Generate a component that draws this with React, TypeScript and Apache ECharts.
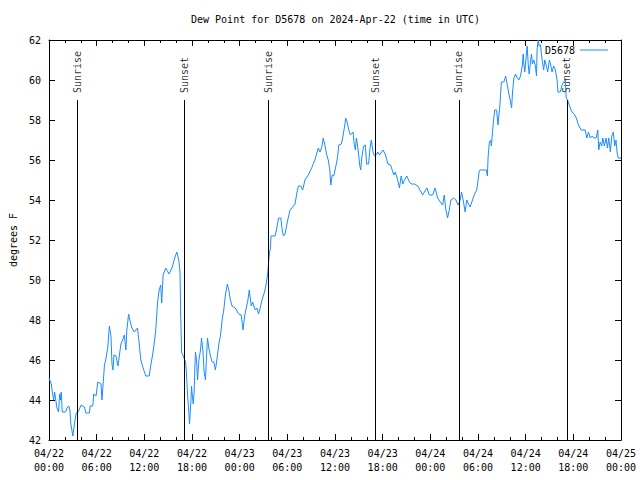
import React, { useEffect, useRef } from "react";
import * as echarts from "echarts";

// hours since 2024-04-22 00:00 UTC
const hours = [
  0, 0.29, 0.41, 0.59, 0.71, 1.0, 1.21, 1.34, 1.44, 1.54, 1.67, 2.09, 2.25, 2.5, 2.63, 2.75, 3.0, 3.22, 3.42, 3.67,
  4.04, 4.47, 4.63, 5.1, 5.17, 5.51, 5.63, 5.92, 6.14, 6.55, 6.67, 6.85, 6.97, 7.18, 7.39, 7.6, 7.8, 7.93, 8.05, 8.18,
  8.43, 8.68, 8.85, 9.05, 9.27, 9.48, 9.68, 9.8, 10.02, 10.18, 10.43, 10.73, 11.14, 11.36, 11.56, 11.77, 12.18, 12.61, 12.81, 13.02,
  13.24, 13.44, 13.65, 13.86, 14.06, 14.19, 14.36, 14.69, 15.11, 15.53, 15.82, 16.09, 16.34, 16.49, 16.57, 16.69, 16.9, 17.19, 17.28, 17.44,
  17.62, 17.69, 17.87, 17.94, 18.03, 18.16, 18.28, 18.37, 18.44, 18.57, 18.7, 18.87, 19.07, 19.2, 19.37, 19.53, 19.7, 19.82, 19.95, 20.12,
  20.32, 20.54, 20.75, 20.95, 21.16, 21.38, 21.58, 21.79, 22.0, 22.2, 22.45, 22.63, 22.83, 23.04, 23.45, 23.88, 24.2, 24.42, 24.63, 24.83,
  25.04, 25.21, 25.46, 25.63, 25.96, 26.17, 26.38, 26.58, 26.88, 27.13, 27.34, 27.55, 27.64, 27.76, 27.84, 27.96, 28.46, 28.68, 28.89, 29.18,
  29.39, 29.51, 29.71, 30.05, 30.34, 30.77, 30.97, 31.18, 31.39, 31.68, 31.93, 32.22, 32.64, 33.06, 33.47, 33.9, 34.1, 34.31, 34.52, 34.72,
  34.94, 35.15, 35.35, 35.47, 35.65, 35.85, 36.06, 36.31, 36.48, 36.81, 37.03, 37.23, 37.35, 37.53, 37.73, 37.94, 38.07, 38.28, 38.41, 38.57,
  38.69, 38.91, 39.11, 39.23, 39.41, 39.61, 39.82, 39.98, 40.23, 40.41, 40.57, 40.78, 40.98, 41.07, 41.41, 41.61, 42.04, 42.32, 42.66, 42.99,
  43.2, 43.41, 43.58, 43.83, 44.11, 44.33, 44.54, 44.74, 45.04, 45.37, 45.58, 45.99, 46.42, 46.83, 47.04, 47.33, 47.58, 47.87, 48.3, 48.59,
  48.92, 49.25, 49.55, 49.75, 49.96, 50.17, 50.38, 50.59, 50.93, 51.22, 51.5, 51.75, 51.93, 52.18, 52.38, 52.59, 52.8, 53.01, 53.31, 53.51,
  53.84, 54.01, 54.13, 54.26, 54.76, 55.06, 55.18, 55.28, 55.43, 55.6, 55.68, 55.89, 56.1, 56.35, 56.51, 56.76, 56.94, 57.26, 57.48, 57.69,
  57.89, 58.1, 58.23, 58.35, 58.52, 58.73, 58.94, 59.14, 59.35, 59.57, 59.69, 59.77, 59.89, 60.07, 60.19, 60.32, 60.44, 60.61, 60.73, 60.86,
  61.02, 61.23, 61.36, 61.44, 61.57, 61.69, 61.86, 61.98, 62.15, 62.27, 62.4, 62.61, 62.77, 62.99, 63.15, 63.32, 63.52, 63.74, 63.95, 64.07,
  64.36, 64.58, 64.78, 64.99, 65.11, 65.28, 65.53, 65.83, 66.12, 66.37, 66.65, 66.99, 67.49, 67.7, 67.91, 68.12, 68.37, 68.62, 68.87, 69.08,
  69.2, 69.37, 69.58, 69.71, 69.91, 70.12, 70.29, 70.46, 70.66, 70.84, 71.04, 71.21, 71.37, 71.5, 71.66, 72.0,
];

// dew point, degrees F
const dewPoint = [
  45.1, 44.8, 44.4, 44.0, 44.4, 43.6, 43.4, 44.3, 44.0, 44.4, 43.4, 43.4, 43.6, 43.7, 43.5, 42.8, 42.2, 42.85, 43.35, 43.4,
  43.75, 43.65, 43.35, 43.35, 43.7, 43.7, 44.3, 44.2, 44.9, 44.8, 44.0, 45.0, 45.7, 46.1, 46.6, 47.7, 47.2, 45.8, 45.5, 46.25,
  46.2, 45.7, 46.2, 46.8, 47.0, 47.25, 46.5, 47.5, 48.3, 48.0, 47.6, 47.4, 47.6, 46.8, 46.0, 45.7, 45.2, 45.2, 45.75, 46.2,
  46.8, 47.5, 48.8, 49.5, 49.75, 48.85, 50.25, 50.6, 50.3, 50.65, 51.1, 51.4, 51.0, 50.4, 48.4, 46.4, 46.2, 45.9, 45.5, 44.25,
  43.3, 42.8, 44.0, 44.7, 44.25, 43.8, 44.5, 45.75, 46.4, 46.0, 45.0, 46.0, 46.5, 47.1, 46.5, 45.4, 45.0, 46.1, 47.1, 46.6,
  46.2, 45.9, 45.9, 45.5, 46.1, 46.8, 47.2, 48.0, 48.5, 49.25, 49.8, 49.5, 49.0, 48.7, 48.6, 48.3, 48.25, 47.5, 48.2, 48.6,
  49.0, 49.5, 48.7, 48.9, 48.5, 48.6, 48.3, 48.6, 49.1, 49.4, 49.8, 50.4, 50.9, 51.4, 51.5, 52.2, 52.2, 52.6, 53.1, 53.1,
  52.4, 52.2, 52.3, 53.0, 53.5, 53.7, 53.8, 54.3, 54.7, 54.7, 54.5, 55.0, 55.25, 55.6, 56.0, 56.6, 56.4, 56.6, 57.1, 56.75,
  56.3, 56.0, 55.5, 54.75, 55.25, 55.2, 55.6, 56.1, 56.75, 56.8, 57.25, 57.75, 58.1, 57.9, 57.5, 57.25, 57.3, 57.4, 56.8, 56.5,
  57.1, 56.5, 55.75, 55.5, 56.25, 56.7, 56.75, 55.8, 55.8, 56.6, 57.0, 56.4, 56.2, 56.2, 56.4, 56.25, 56.5, 56.3, 55.8, 55.75,
  55.5, 55.25, 55.4, 55.1, 54.6, 55.2, 54.8, 55.0, 55.2, 54.9, 54.8, 54.8, 54.7, 54.4, 54.25, 54.45, 54.6, 54.25, 54.25, 54.6,
  54.1, 53.9, 53.75, 54.25, 53.5, 53.1, 53.5, 54.0, 54.1, 54.0, 53.75, 54.0, 54.4, 53.9, 53.4, 54.0, 53.8, 53.65, 54.0, 54.25,
  54.5, 55.0, 55.4, 55.5, 55.5, 55.5, 55.2, 56.2, 56.9, 57.0, 56.7, 57.7, 58.5, 58.5, 57.75, 58.75, 59.9, 59.9, 60.2, 59.75,
  59.3, 58.9, 58.6, 59.4, 60.1, 60.3, 60.1, 60.0, 60.2, 60.7, 61.3, 60.8, 60.4, 61.2, 61.7, 60.8, 60.3, 60.9, 61.3, 60.8,
  61.0, 60.7, 60.2, 61.5, 62.0, 61.7, 61.75, 61.3, 60.8, 60.5, 61.0, 60.7, 60.4, 61.0, 60.75, 60.4, 60.7, 60.5, 60.0, 59.4,
  59.4, 59.75, 59.9, 60.0, 59.1, 59.0, 58.7, 58.4, 58.3, 58.1, 57.75, 57.5, 57.5, 57.1, 57.4, 57.1, 57.2, 57.1, 57.1, 57.5,
  56.5, 56.9, 56.7, 57.1, 56.7, 57.1, 56.6, 57.1, 56.4, 57.2, 57.4, 56.7, 57.0, 56.4, 56.1, 56.1,
];

const eventHours = [3.6, 17.05, 27.6, 41.1, 51.6, 65.2];
const eventNames = ["Sunrise", "Sunset", "Sunrise", "Sunset", "Sunrise", "Sunset"];
const eventTop = 59;

const yMin = 42;
const yMax = 62;
const yStep = 2;
const xMin = 0;
const xMax = 72;
const xStep = 6;
const startDay = 22;

const FONT = "DejaVu Sans Mono";

function xLabel(v: number): string {
  const day = startDay + Math.floor(v / 24);
  const hh = Math.round(v % 24);
  return `04/${day}\n${String(hh).padStart(2, "0")}:00`;
}

export default function App() {
  const ref = useRef<HTMLDivElement>(null);
  useEffect(() => {
    const chart = echarts.init(ref.current!, null, { renderer: "svg" });
    const axisLine = { show: true, onZero: false, lineStyle: { color: "#000", width: 1 } };
    const tick = { show: true, inside: true, length: 6, lineStyle: { color: "#000", width: 1 } };
    const minor = { show: true, splitNumber: 3, length: 3, lineStyle: { color: "#000", width: 1 } };
    const label = { fontFamily: FONT, fontSize: 10, color: "#000" };
    chart.setOption({
      animation: false,
      backgroundColor: "#fff",
      title: {
        text: "Dew Point for D5678 on 2024-Apr-22 (time in UTC)",
        left: 186,
        top: 9,
        textStyle: { fontFamily: FONT, fontSize: 10, fontWeight: "normal", color: "#000" },
      },
      legend: {
        data: ["D5678"],
        right: 27,
        top: 40,
        align: "right",
        icon: "rect",
        itemWidth: 28,
        itemHeight: 1,
        textStyle: { fontFamily: FONT, fontSize: 10, color: "#000" },
      },
      grid: { left: 46, right: 19, top: 40, bottom: 40, containLabel: false },
      xAxis: [
        {
          type: "value",
          min: xMin,
          max: xMax,
          interval: xStep,
          position: "bottom",
          axisLine,
          axisTick: tick,
          minorTick: minor,
          splitLine: { show: false },
          axisLabel: { ...label, formatter: xLabel, margin: 6, lineHeight: 14 },
        },
        {
          type: "value",
          min: xMin,
          max: xMax,
          interval: xStep,
          position: "top",
          axisLine,
          axisTick: tick,
          minorTick: minor,
          splitLine: { show: false },
          axisLabel: { show: false },
        },
      ],
      yAxis: [
        {
          type: "value",
          min: yMin,
          max: yMax,
          interval: yStep,
          position: "left",
          axisLine,
          axisTick: tick,
          splitLine: { show: false },
          axisLabel: { ...label, margin: 8 },
          name: "degrees F",
          nameLocation: "middle",
          nameRotate: 90,
          nameGap: 31,
          nameTextStyle: { fontFamily: FONT, fontSize: 10, color: "#000" },
        },
        {
          type: "value",
          min: yMin,
          max: yMax,
          interval: yStep,
          position: "right",
          axisLine,
          axisTick: tick,
          splitLine: { show: false },
          axisLabel: { show: false },
        },
      ],
      series: [
        {
          name: "events",
          type: "scatter",
          symbolSize: 0,
          silent: true,
          data: eventHours.map((h, i) => ({ value: [h, eventTop], name: eventNames[i] })),
          label: {
            show: true,
            formatter: "{b}",
            position: "top",
            distance: 7,
            rotate: 90,
            align: "left",
            verticalAlign: "middle",
            fontFamily: FONT,
            fontSize: 10,
            color: "#000",
          },
          markLine: {
            silent: true,
            symbol: ["none", "none"],
            label: { show: false },
            lineStyle: { color: "#000", width: 1, type: "solid" },
            data: eventHours.map((h) => [{ coord: [h, eventTop] }, { coord: [h, yMin] }]),
          },
        },
        {
          name: "D5678",
          type: "line",
          showSymbol: false,
          symbol: "none",
          color: "#1a8cff",
          lineStyle: { color: "#1a8cff", width: 1 },
          data: hours.map((h, i) => [h, dewPoint[i]]),
          z: 3,
        },
      ],
    });
    return () => chart.dispose();
  }, []);
  return (
    <div
      ref={ref}
      style={{ position: "fixed", left: 0, top: 0, width: 640, height: 480, background: "#fff" }}
    />
  );
}
